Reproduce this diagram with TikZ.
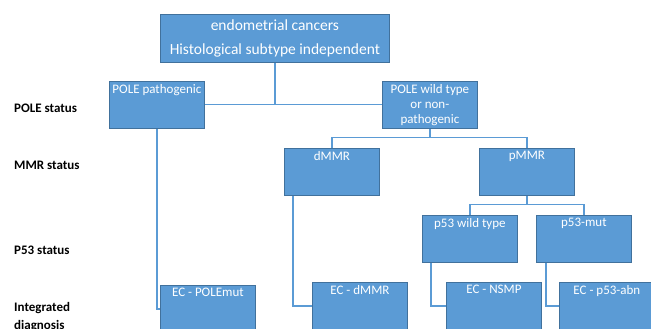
\documentclass[tikz,border=0pt]{standalone}
\usepackage{fontspec}
\setmainfont{Carlito}
\usetikzlibrary{positioning}
\definecolor{boxblue}{HTML}{5B9BD5}
\definecolor{boxline}{HTML}{41719C}
\tikzset{
  box/.style={draw=boxline, fill=boxblue, line width=0.8pt, minimum width=95pt,
    minimum height=47pt, inner sep=0pt, anchor=north west},
  boxtext/.style={anchor=north, text=white, align=center, inner sep=3pt,
    font=\fontsize{13}{15}\selectfont},
  link/.style={draw=boxblue, line width=1.2pt},
  rowlabel/.style={anchor=west, align=left, inner sep=0pt,
    font=\fontsize{13}{18}\selectfont\bfseries},
}

\begin{document}
\begin{tikzpicture}[x=1pt, y=-1pt]
  \clip (0,0) rectangle (651,329);
  % boxes
  \node[box, minimum width=229pt, minimum height=48pt] (ec) at (160,14) {};
  \node[box] (polep) at (109,81) {};
  \node[box] (polewt) at (382,81) {};
  \node[box] (dmmr) at (284,148) {};
  \node[box] (pmmr) at (479,148) {};
  \node[box] (p53wt) at (422,215) {};
  \node[box] (p53mut) at (536,215) {};
  \node[box] (ecpole) at (160,285) {};
  \node[box] (ecdmmr) at (312,282) {};
  \node[box] (ecnsmp) at (446,282) {};
  \node[box] (ecabn) at (559,282) {};
  % box texts
  \node[boxtext, inner sep=5.5pt, font=\fontsize{15.5}{24.5}\selectfont] (ec-t) at (ec.north)
    {endometrial cancers\\Histological subtype independent};
  \node[boxtext] (polep-t) at (polep.north) {POLE pathogenic};
  \node[boxtext] (polewt-t) at (polewt.north) {POLE wild type\\or non-\\pathogenic};
  \node[boxtext] (dmmr-t) at (dmmr.north) {dMMR};
  \node[boxtext] (pmmr-t) at (pmmr.north) {pMMR};
  \node[boxtext] (p53wt-t) at (p53wt.north) {p53 wild type};
  \node[boxtext] (p53mut-t) at (p53mut.north) {p53-mut};
  \node[boxtext] (ecpole-t) at (ecpole.north) {EC - POLEmut};
  \node[boxtext] (ecdmmr-t) at (ecdmmr.north) {EC - dMMR};
  \node[boxtext] (ecnsmp-t) at (ecnsmp.north) {EC - NSMP};
  \node[boxtext] (ecabn-t) at (ecabn.north) {EC - p53-abn};
  % row labels
  \node[rowlabel] (row-pole) at (14,108) {POLE status};
  \node[rowlabel] (row-mmr) at (14,165) {MMR status};
  \node[rowlabel] (row-p53) at (14,250) {P53 status};
  \node[rowlabel, anchor=north west] (row-diag) at (14,302) {Integrated\\diagnosis};
  % connectors
  \draw[link] (ec.south) -- (ec.south |- polep.east);
  \draw[link] (polep.east) -- (polewt.west);
  \draw[link] (polewt.south) -- ++(0,9) coordinate (mmrsplit);
  \draw[link] (dmmr.north) |- (mmrsplit) -| (pmmr.north);
  \draw[link] (pmmr.south) -- ++(0,9) coordinate (p53split);
  \draw[link] (p53wt.north) |- (p53split) -| (p53mut.north);
  \draw[link] (polep.south) |- (ecpole.west);
  \draw[link] ([xshift=9pt]dmmr.south west) |- (ecdmmr.west);
  \draw[link] ([xshift=9pt]p53wt.south west) |- (ecnsmp.west);
  \draw[link] ([xshift=10pt]p53mut.south west) |- (ecabn.west);
\end{tikzpicture}
\end{document}
